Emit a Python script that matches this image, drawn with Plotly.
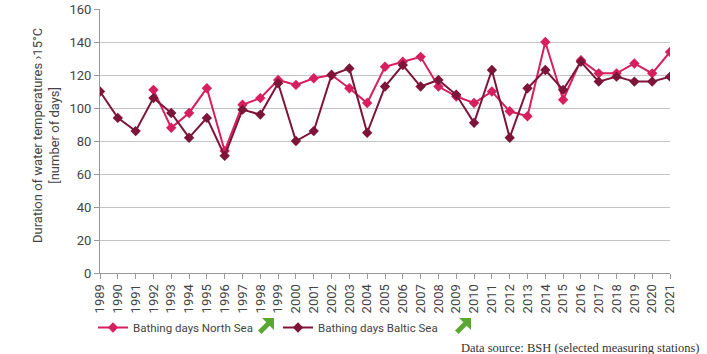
import plotly.graph_objects as go

years = list(range(1989, 2022))
north_years = list(range(1992, 2022))
north_sea = [111, 88, 97, 112, 74, 102, 106, 117, 114, 118, 120, 112, 103, 125, 128, 131,
             113, 107, 103, 110, 98, 95, 140, 105, 129, 121, 121, 127, 121, 134]
baltic_sea = [110, 94, 86, 106, 97, 82, 94, 71, 99, 96, 115, 80, 86, 120, 124, 85, 113, 126,
              113, 117, 108, 91, 123, 82, 112, 123, 111, 128, 116, 119, 116, 116, 119]
y_ticks = [0, 20, 40, 60, 80, 100, 120, 140, 160]

PINK = "#d61f5c"
DARK = "#7d1538"
GREEN = "#5aa832"
FONT = "Roboto"
W, H = 707, 354
L, R, T, B = 100, 37, 9, 81
pw, ph = W - L - R, H - T - B

def py2paper(py):
    return (T + ph - py) / ph

def px2paper(px):
    return (px - L) / pw

fig = go.Figure()
fig.add_trace(go.Scatter(x=north_years, y=north_sea, mode="lines+markers",
                         name="Bathing days North Sea",
                         line=dict(color=PINK, width=2),
                         marker=dict(symbol="diamond", size=8, color=PINK)))
fig.add_trace(go.Scatter(x=years, y=baltic_sea, mode="lines+markers",
                         name="Bathing days Baltic Sea",
                         line=dict(color=DARK, width=2),
                         marker=dict(symbol="diamond", size=8, color=DARK)))

fig.update_layout(
    width=W, height=H,
    margin=dict(l=L, r=R, t=T, b=B, autoexpand=False),
    plot_bgcolor="white", paper_bgcolor="white",
    font=dict(family=FONT, size=12, color="#444"),
    showlegend=True,
    legend=dict(orientation="h", x=px2paper(93), xanchor="left", y=py2paper(313),
                yanchor="top", entrywidth=140,
                font=dict(family=FONT, size=11.5, color="#444"),
                itemwidth=30, bgcolor="rgba(0,0,0,0)"),
)
fig.update_xaxes(range=[1989, 2021], tickmode="array", tickvals=years,
                 ticktext=[str(y) for y in years], tickangle=-90, automargin=False,
                 showgrid=False, showline=True, linecolor="#999", linewidth=1,
                 ticks="outside", ticklen=5, tickcolor="#999",
                 tickfont=dict(size=13, color="#444"), zeroline=False)
fig.update_yaxes(range=[0, 160], tickvals=y_ticks, showgrid=True, gridcolor="#c4c4c4",
                 gridwidth=1, showline=True, linecolor="#999", linewidth=1, automargin=False,
                 ticks="outside", ticklen=5, tickcolor="#999",
                 tickfont=dict(size=13, color="#444"), zeroline=False)

fig.add_annotation(text="Duration of water temperatures ›15°C<br>[number of days]",
                   xref="paper", yref="paper", x=px2paper(46), y=py2paper(136),
                   textangle=-90, showarrow=False, font=dict(size=13, color="#444"),
                   xanchor="center", yanchor="middle")
fig.add_annotation(text="Data source: BSH (selected measuring stations)",
                   xref="paper", yref="paper", x=px2paper(701), y=py2paper(348),
                   showarrow=False, xanchor="right", yanchor="middle",
                   font=dict(family="Liberation Serif", size=12.5, color="#333"))

def arrow_path(px0, py0, size):
    pts = [(1, 1), (0.25, 1), (0.52, 0.73), (0.0, 0.22), (0.22, 0.0), (0.73, 0.52), (1, 0.25)]
    out = []
    for i, (u, v) in enumerate(pts):
        xp = px2paper(px0 + u * size)
        yp = py2paper(py0 - v * size)
        out.append(("M" if i == 0 else "L") + f"{xp:.5f},{yp:.5f}")
    return " ".join(out) + " Z"

for ax in (258, 455):
    fig.add_shape(type="path", xref="paper", yref="paper", path=arrow_path(ax, 334, 16),
                  fillcolor=GREEN, line=dict(width=0))

fig.write_html("out.html")
